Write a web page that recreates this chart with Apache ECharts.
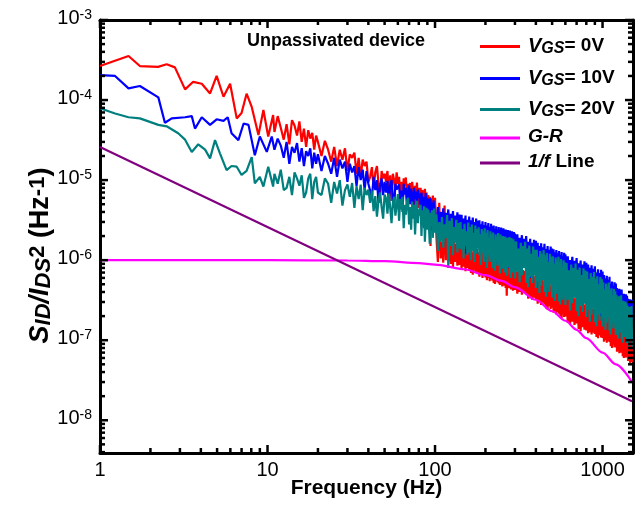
<!DOCTYPE html>
<html>
<head>
<meta charset="utf-8">
<script src="https://cdn.jsdelivr.net/npm/echarts@6/dist/echarts.min.js"></script>
<style>
  html, body { margin: 0; padding: 0; background: #ffffff; }
  #chart { width: 640px; height: 508px; }
</style>
</head>
<body>
<div id="chart"></div>
<script>
// Normalised drain-current noise spectra S_ID/I_DS^2 of the unpassivated device.
// All spectral values below are in units of 1e-9 Hz^-1.
const UNIT = 1e-9;

// Low-frequency part of each spectrum
const redLowFreq = [1, 1.48, 1.73, 2.22, 2.5, 2.8, 3.22, 3.6, 4.05, 4.54, 4.97, 5.46, 5.98, 6.55, 7.0, 7.5, 8.05, 8.83, 9.45, 10.1, 10.8];
const redLow = [266000, 355000, 266000, 260000, 280000, 256000, 136000, 169000, 160000, 121000, 200000, 110000, 160000, 59000, 69000, 120000, 82000, 36500, 75000, 35000, 65000];

const blueLowFreq = [1, 1.23, 1.48, 1.73, 2.23, 2.44, 2.68, 3.22, 3.53, 3.69, 4.05, 4.54, 4.97, 5.46, 5.79, 6.1, 6.7, 7.2, 7.7, 8.4, 9.0, 9.9, 10.6];
const blueLow = [205000, 200000, 140000, 150000, 108000, 52000, 59000, 61000, 63000, 44000, 61000, 49000, 57500, 55000, 61000, 38500, 31600, 51000, 49000, 20400, 35000, 22500, 35000];

const tealLowFreq = [1, 1.23, 1.48, 1.73, 2.23, 2.5, 2.93, 3.22, 3.53, 3.86, 4.24, 4.54, 4.86, 5.2, 5.7, 6.1, 6.55, 7.0, 7.5, 8.05, 8.4, 9.0, 9.45, 10.1, 10.8];
const tealLow = [79000, 68000, 61000, 59000, 49000, 47000, 38500, 32000, 22500, 28000, 24000, 18700, 31600, 21600, 13300, 15000, 14700, 11600, 13000, 19400, 9100, 11000, 8300, 14700, 8300];

// Dense part of the spectra on a shared frequency grid (Hz)
const bandFreq = [
  11, 11.5, 12, 12.5, 13, 13.5, 14, 14.5, 15, 15.5, 16, 16.5, 17, 17.5, 18, 18.5, 19, 19.5, 20,
  21, 22, 23, 24, 25, 26, 27, 28, 29, 30, 31, 32, 33, 34, 35, 36, 37, 38, 39, 40,
  41, 42, 43, 44, 45, 46, 47, 48, 49, 50, 51, 52, 53, 54, 55, 56, 57, 58, 59, 60,
  61, 62, 63, 64, 65, 66, 67, 68, 69, 70, 71, 72, 73, 74, 75, 76, 77, 78, 79, 80,
  81, 82, 83, 84, 85, 86, 87, 88, 89, 90, 91, 92, 93, 94, 95, 96, 97, 98, 99, 100,
  102, 104, 106, 108, 110, 112, 114, 116, 118, 120, 122, 124, 126, 128, 130, 132, 134, 136, 138, 140,
  142, 144, 146, 148, 150, 152, 154, 156, 158, 160, 162, 164, 166, 168, 170, 172, 174, 176, 178, 180,
  182, 184, 186, 188, 190, 192, 194, 196, 198, 200, 202, 204, 206, 208, 210, 212, 214, 216, 218, 220,
  222, 224, 226, 228, 230, 232, 234, 236, 238, 240, 242, 244, 246, 248, 250, 252, 254, 256, 258, 260,
  262, 264, 266, 268, 270, 272, 274, 276, 278, 280, 282, 284, 286, 288, 290, 292, 294, 296, 298, 300,
  305, 310, 315, 320, 325, 330, 335, 340, 345, 350, 355, 360, 365, 370, 375, 380, 385, 390, 395, 400,
  405, 410, 415, 420, 425, 430, 435, 440, 445, 450, 455, 460, 465, 470, 475, 480, 485, 490, 495, 500,
  505, 510, 515, 520, 525, 530, 535, 540, 545, 550, 555, 560, 565, 570, 575, 580, 585, 590, 595, 600,
  610, 620, 630, 640, 650, 660, 670, 680, 690, 700, 710, 720, 730, 740, 750, 760, 770, 780, 790, 800,
  810, 820, 830, 840, 850, 860, 870, 880, 890, 900, 910, 920, 930, 940, 950, 960, 970, 980, 990, 1000,
  1010, 1020, 1030, 1040, 1050, 1060, 1070, 1080, 1090, 1100, 1110, 1120, 1130, 1140, 1150, 1160, 1170, 1180, 1190, 1200,
  1210, 1220, 1230, 1240, 1250, 1260, 1270, 1280, 1290, 1300, 1310, 1320, 1330, 1340, 1350, 1360, 1370, 1380, 1390, 1400,
  1410, 1420, 1430, 1440, 1450, 1460, 1470, 1480, 1490, 1500
];

const redBand = [
  40000, 63000, 45000, 32000, 50000, 28000, 56000, 48000, 36000, 54000, 30000, 44000, 26000, 42000, 33000, 39000, 24000, 36000, 30000,
  20000, 31000, 24000, 17000, 26000, 15000, 24000, 18000, 25000, 13000, 21000, 19000, 22000, 12000, 19000, 11000, 18000, 15000, 17000, 9500,
  11000, 14500, 8000, 12500, 15000, 9000, 6500, 13000, 10500, 12000, 9500, 13000, 7000, 11500, 5500, 12000, 10000, 8000, 12500, 9000,
  11000, 6500, 9500, 4500, 10500, 8500, 10800, 5500, 9000, 7500, 9200, 5000, 9500, 7500, 3500, 8500, 6500, 9300, 4500, 8000,
  6000, 8000, 4000, 7500, 6800, 2500, 7800, 5500, 7000, 3500, 6500, 4500, 6200, 1500, 5800, 3500, 6400, 5000, 2400, 6000,
  1900, 950, 5200, 1050, 1700, 930, 4800, 1000, 2000, 980, 1700, 900, 1500, 820, 2000, 950, 1600, 850, 1800, 870,
  1500, 760, 1800, 830, 1400, 730, 1600, 800, 1450, 750, 1350, 690, 1250, 660, 1500, 740, 1300, 700, 1400, 670,
  1250, 620, 1400, 680, 1150, 600, 1300, 650, 1200, 610, 1100, 560, 1050, 600, 1250, 545, 1150, 580, 1100, 555,
  1000, 520, 1150, 505, 950, 560, 1050, 530, 1000, 510, 950, 490, 900, 520, 1050, 470, 920, 500, 980, 480,
  880, 450, 950, 360, 850, 470, 900, 445, 870, 460, 820, 430, 800, 450, 880, 415, 830, 440, 810, 425,
  720, 380, 780, 400, 700, 370, 750, 390, 730, 375, 640, 330, 620, 345, 680, 320, 650, 340, 630, 325,
  560, 285, 600, 300, 540, 275, 580, 295, 550, 280, 490, 250, 470, 240, 520, 265, 480, 245, 500, 255,
  440, 220, 460, 230, 420, 210, 450, 225, 430, 215, 390, 200, 380, 190, 410, 210, 385, 195, 395, 198,
  330, 165, 350, 158, 320, 170, 340, 155, 335, 162, 280, 138, 270, 130, 295, 145, 285, 135, 275, 132,
  245, 122, 255, 126, 240, 118, 250, 124, 248, 120, 215, 110, 210, 106, 225, 115, 218, 108, 212, 107,
  190, 96, 200, 100, 185, 93, 195, 98, 192, 95, 168, 84, 162, 80, 175, 88, 170, 82, 165, 81,
  148, 72, 155, 75, 145, 69, 150, 73, 147, 70, 132, 63, 128, 60, 138, 66, 133, 61, 130, 62,
  118, 55, 122, 57, 115, 52, 120, 56, 117, 53
];

const blueBand = [
  24000, 33000, 27000, 19000, 30000, 16000, 26000, 22000, 29000, 17000, 25000, 15000, 23000, 20000, 25000, 14000, 22000, 16000, 21000,
  13000, 20000, 16000, 12000, 19000, 11000, 18000, 14000, 17000, 9500, 16000, 12500, 15000, 8500, 14500, 10000, 13500, 7500, 13000, 9000,
  9000, 6000, 11000, 7500, 10000, 5200, 8500, 10500, 6500, 9500, 7000, 9800, 5000, 8600, 10000, 6200, 4500, 9000, 7600, 8200,
  8800, 5500, 7400, 4000, 9000, 6600, 8000, 4600, 7000, 8600, 5000, 7800, 6400, 3500, 8000, 5800, 7200, 4200, 7600, 6000,
  6800, 4000, 7000, 5400, 2900, 6200, 4800, 6900, 3600, 6000, 3200, 5800, 4400, 6000, 2400, 5200, 3800, 5600, 4600, 2800,
  2600, 4600, 2200, 4000, 2900, 4450, 2400, 3900, 2700, 4300, 2300, 3800, 2600, 4100, 1900, 3600, 2500, 3950, 2200, 3700,
  2100, 3700, 1800, 3300, 2300, 3600, 1200, 3200, 2000, 3500, 1900, 3150, 2100, 3400, 1700, 3000, 2000, 3300, 1850, 3100,
  1800, 3150, 1600, 2800, 2000, 3050, 1750, 2750, 1050, 3000, 1650, 2700, 1800, 2900, 1500, 2600, 1750, 2850, 1600, 2650,
  1550, 2700, 1400, 2450, 1650, 2650, 900, 2400, 1500, 2600, 1450, 2350, 1550, 2550, 1300, 2250, 1500, 2500, 1400, 2300,
  1350, 2420, 1250, 2200, 1450, 2380, 1300, 2150, 800, 2350, 1300, 2100, 1400, 2300, 1200, 2050, 1350, 2250, 1250, 2150,
  1200, 2100, 1100, 1900, 1300, 2050, 1150, 1850, 1250, 2000, 1050, 1700, 1150, 1850, 600, 1650, 1100, 1800, 1000, 1750,
  950, 1650, 850, 1500, 1000, 1620, 900, 1450, 950, 1600, 850, 1380, 900, 1500, 780, 1350, 500, 1480, 870, 1400,
  780, 1370, 720, 1250, 820, 1340, 760, 1220, 800, 1300, 700, 1160, 750, 1260, 650, 1130, 420, 1240, 720, 1180,
  640, 1120, 600, 1000, 680, 1100, 620, 980, 650, 1060, 560, 910, 590, 990, 300, 880, 580, 970, 550, 930,
  500, 880, 470, 800, 520, 860, 480, 780, 510, 840, 440, 700, 460, 770, 410, 690, 200, 760, 450, 720,
  370, 650, 350, 590, 390, 640, 360, 570, 380, 620, 310, 500, 320, 540, 170, 480, 300, 530, 315, 510,
  260, 450, 250, 410, 270, 440, 255, 400, 265, 430, 215, 350, 225, 380, 120, 340, 220, 375, 210, 360,
  185, 330, 180, 300, 190, 325, 175, 295, 185, 320
];

const tealBand = [
  12000, 9000, 13500, 7500, 8000, 11000, 6500, 12500, 10500, 8500, 11500, 6000, 7000, 10500, 12000, 5800, 9500, 11000, 7000,
  6500, 10500, 9000, 5200, 9500, 6800, 10000, 4800, 7500, 8800, 6200, 9200, 4500, 8400, 5800, 8800, 4200, 8000, 6500, 7600,
  5200, 7400, 4100, 6300, 3500, 5600, 7000, 4600, 3300, 6600, 5900, 3800, 6800, 4500, 2900, 5200, 6200, 3600, 4800, 6700,
  3100, 5800, 4300, 6200, 2500, 4900, 3700, 5500, 6000, 2800, 4600, 2400, 5400, 3300, 4900, 2100, 3900, 5500, 2900, 4300,
  3600, 4900, 2000, 4200, 2700, 4700, 1700, 3200, 4500, 2400, 4300, 2600, 1600, 3900, 3000, 4200, 1900, 3400, 4400, 2200,
  3750, 1300, 3000, 1700, 3450, 1430, 2800, 1900, 3650, 800, 3100, 1500, 3350, 1150, 2600, 1650, 3200, 1250, 2900, 1400,
  3000, 1350, 2450, 1050, 2850, 1500, 2300, 1150, 2950, 1250, 2600, 1000, 2780, 1300, 2200, 950, 2700, 1200, 2450, 1400,
  2580, 1150, 2100, 870, 2450, 1250, 2300, 950, 2500, 1100, 2200, 800, 2380, 1150, 1900, 950, 2300, 1050, 2100, 790,
  2220, 1000, 1800, 740, 2100, 1050, 1950, 850, 2180, 950, 1900, 680, 2090, 950, 1650, 780, 2000, 1000, 1850, 700,
  1980, 900, 1600, 640, 1900, 820, 1750, 950, 1950, 660, 1750, 600, 1890, 850, 1500, 700, 1820, 880, 1700, 590,
  1720, 720, 1400, 530, 1650, 650, 1500, 800, 1700, 520, 1400, 460, 1520, 620, 1200, 520, 1480, 650, 1350, 450,
  1350, 550, 1100, 390, 1300, 480, 1200, 560, 1340, 400, 1150, 350, 1230, 470, 950, 400, 1200, 500, 1100, 340,
  1120, 420, 900, 310, 1080, 380, 980, 440, 1100, 305, 960, 280, 1030, 380, 820, 320, 1000, 400, 940, 275,
  920, 320, 750, 235, 880, 290, 800, 340, 910, 230, 760, 200, 810, 270, 650, 225, 790, 285, 740, 195,
  720, 240, 580, 170, 690, 210, 620, 250, 710, 168, 590, 150, 630, 210, 500, 175, 615, 220, 580, 148,
  530, 190, 430, 135, 510, 165, 470, 195, 525, 132, 420, 118, 445, 165, 360, 140, 435, 170, 410, 116,
  370, 145, 300, 105, 355, 125, 330, 150, 365, 103, 295, 93, 310, 130, 250, 110, 305, 135, 290, 92,
  270, 115, 220, 84, 260, 100, 240, 120, 268, 83
];

// Generation-recombination component
const grFreq = [1, 10, 30, 50, 80, 100, 150, 200, 250, 300, 400, 500, 600, 700, 800, 1000, 1200, 1500];
const grVals = [1000, 1000, 990, 970, 920, 880, 770, 650, 550, 460, 320, 230, 175, 135, 106, 70, 50, 30];

// 1/f reference line
const flickerFreq = [1, 1500];
const flickerVals = [26000, 17.3];

// Axis ticks
const xTickLabels = [1, 10, 100, 1000];
const yTickLabels = [1e-8, 1e-7, 1e-6, 1e-5, 1e-4, 1e-3];

const X_MIN = 1, X_MAX = 1520, Y_MIN = 3.9e-9, Y_MAX = 1e-3;
const FONT = 'Liberation Sans, Arial, sans-serif';

function pairs(xs, ys) { return xs.map((x, i) => [x, ys[i] * UNIT]); }
function minorTicks(lo, hi, e0, e1) {
  const out = [];
  for (let e = e0; e <= e1; e++) {
    for (let m = 2; m <= 9; m++) {
      const v = m * Math.pow(10, e);
      if (v >= lo && v <= hi) out.push(v);
    }
  }
  return out;
}
const xMinor = minorTicks(X_MIN, X_MAX, 0, 3);
const yMinor = minorTicks(Y_MIN, Y_MAX, -9, -4);

const redData = pairs(redLowFreq, redLow).concat(pairs(bandFreq, redBand));
const blueData = pairs(blueLowFreq, blueLow).concat(pairs(bandFreq, blueBand));
const tealData = pairs(tealLowFreq, tealLow).concat(pairs(bandFreq, tealBand));

// Tick marks on all four sides of the frame: [x, y, isMajor]
const xTickData = xTickLabels.map(v => [v, Y_MIN, 1]).concat(xMinor.map(v => [v, Y_MIN, 0]));
const yTickData = yTickLabels.map(v => [X_MIN, v, 1]).concat(yMinor.map(v => [X_MIN, v, 0]));
const TICK = { stroke: '#000000', lineWidth: 2.5 };

function renderXTick(params, api) {
  const p = api.coord([api.value(0), api.value(1)]);
  const cs = params.coordSys;
  const len = api.value(2) ? 8 : 5;
  const b = cs.y + cs.height, t = cs.y;
  return { type: 'group', children: [
    { type: 'line', shape: { x1: p[0], y1: b, x2: p[0], y2: b - len }, style: TICK },
    { type: 'line', shape: { x1: p[0], y1: t, x2: p[0], y2: t + len }, style: TICK }
  ] };
}
function renderYTick(params, api) {
  const p = api.coord([api.value(0), api.value(1)]);
  const cs = params.coordSys;
  const len = api.value(2) ? 8 : 5;
  const l = cs.x, r = cs.x + cs.width;
  return { type: 'group', children: [
    { type: 'line', shape: { x1: l, y1: p[1], x2: l + len, y2: p[1] }, style: TICK },
    { type: 'line', shape: { x1: r, y1: p[1], x2: r - len, y2: p[1] }, style: TICK }
  ] };
}

const AXIS_LINE = { show: true, onZero: false, lineStyle: { color: '#000', width: 3 } };

const legendRich = {
  v:   { fontFamily: FONT, fontSize: 20, fontWeight: 'bold', fontStyle: 'italic', color: '#000', lineHeight: 21, verticalAlign: 'top' },
  sub: { fontFamily: FONT, fontSize: 16, fontWeight: 'bold', fontStyle: 'italic', color: '#000', lineHeight: 16, padding: [8, 0, 0, 0], verticalAlign: 'bottom' },
  n:   { fontFamily: FONT, fontSize: 19, fontWeight: 'bold', color: '#000', lineHeight: 21, verticalAlign: 'top' },
  i:   { fontFamily: FONT, fontSize: 19, fontWeight: 'bold', fontStyle: 'italic', color: '#000', lineHeight: 21, verticalAlign: 'top' }
};
function legendAt(name, top, text) {
  return {
    data: [name], left: 480, top: top, padding: 0, icon: 'rect',
    itemWidth: 40, itemHeight: 3, selectedMode: false,
    formatter: () => text,
    textStyle: { fontFamily: FONT, color: '#000', padding: [0, 0, 0, 3], rich: legendRich }
  };
}

function lineSeries(name, data, color, extra) {
  return Object.assign({
    type: 'line', name: name, data: data, xAxisIndex: 0, yAxisIndex: 0,
    symbol: 'none', showSymbol: false, color: color,
    lineStyle: { color: color, width: 2.2 }, animation: false
  }, extra || {});
}

const chart = echarts.init(document.getElementById('chart'), null, { renderer: 'canvas' });
chart.setOption({
  backgroundColor: '#ffffff',
  animation: false,
  title: {
    text: 'Unpassivated device', left: 247, top: 32, padding: 0,
    textStyle: { fontFamily: FONT, fontSize: 18, fontWeight: 'bold', color: '#000' }
  },
  legend: [
    legendAt('VGS = 0V', 33, '{v|V}{sub|GS}{n|= 0V}'),
    legendAt('VGS = 10V', 65, '{v|V}{sub|GS}{n|= 10V}'),
    legendAt('VGS = 20V', 96, '{v|V}{sub|GS}{n|= 20V}'),
    legendAt('G-R', 127.5, '{i|G-R}'),
    legendAt('1/f Line', 152.5, '{i|1/f}{n| Line}')
  ],
  grid: { left: 100, top: 20, right: 7, bottom: 55, containLabel: false, outerBoundsMode: 'none' },
  xAxis: [
    {
      type: 'log', logBase: 10, min: X_MIN, max: X_MAX, position: 'bottom',
      splitLine: { show: false }, axisTick: { show: false }, axisLine: AXIS_LINE,
      axisLabel: {
        show: true, customValues: xTickLabels, margin: 7, fontFamily: FONT, fontSize: 20, color: '#000',
        formatter: v => String(Math.round(v))
      },
      name: 'Frequency (Hz)', nameLocation: 'middle', nameGap: 25, nameMoveOverlap: false,
      nameTextStyle: { fontFamily: FONT, fontSize: 21, fontWeight: 'bold', color: '#000' }
    },
    {
      type: 'log', logBase: 10, min: X_MIN, max: X_MAX, position: 'top',
      splitLine: { show: false }, axisTick: { show: false }, axisLabel: { show: false }, axisLine: AXIS_LINE
    }
  ],
  yAxis: [
    {
      type: 'log', logBase: 10, min: Y_MIN, max: Y_MAX, position: 'left',
      splitLine: { show: false }, axisTick: { show: false }, axisLine: AXIS_LINE,
      axisLabel: {
        show: true, customValues: yTickLabels, margin: 8, padding: [0, 0, 4, 0],
        formatter: v => '{b|10}{s|' + Math.round(Math.log10(v)) + '}',
        rich: {
          b: { fontFamily: FONT, fontSize: 20, color: '#000', lineHeight: 20, verticalAlign: 'bottom' },
          s: { fontFamily: FONT, fontSize: 14, color: '#000', lineHeight: 14, padding: [0, 0, 12, 0], verticalAlign: 'top' }
        }
      },
      name: '{si|S}{sb|ID}{si|/I}{sb|DS}{sp|2}{n| (Hz}{sp|-1}{n|)}',
      nameLocation: 'middle', nameRotate: 90, nameGap: 45, nameMoveOverlap: false,
      nameTextStyle: {
        fontFamily: FONT, color: '#000', padding: [0, 38, 0, 0],
        rich: {
          si: { fontFamily: FONT, fontSize: 27, fontWeight: 'bold', fontStyle: 'italic', color: '#000', lineHeight: 28, verticalAlign: 'middle' },
          sb: { fontFamily: FONT, fontSize: 22, fontWeight: 'bold', fontStyle: 'italic', color: '#000', lineHeight: 22, padding: [15, 0, 0, 0], verticalAlign: 'bottom' },
          sp: { fontFamily: FONT, fontSize: 22, fontWeight: 'bold', color: '#000', lineHeight: 22, padding: [0, 0, 15, 0], verticalAlign: 'top' },
          n:  { fontFamily: FONT, fontSize: 27, fontWeight: 'bold', color: '#000', lineHeight: 28, verticalAlign: 'middle' }
        }
      }
    },
    {
      type: 'log', logBase: 10, min: Y_MIN, max: Y_MAX, position: 'right',
      splitLine: { show: false }, axisTick: { show: false }, axisLabel: { show: false }, axisLine: AXIS_LINE
    }
  ],
  series: [
    lineSeries('VGS = 0V', redData, '#ff0000'),
    lineSeries('VGS = 10V', blueData, '#0000ff'),
    lineSeries('VGS = 20V', tealData, '#007f7f'),
    lineSeries('G-R', pairs(grFreq, grVals), '#ff00ff', { smooth: 0.3, smoothMonotone: 'x' }),
    lineSeries('1/f Line', pairs(flickerFreq, flickerVals), '#800080'),
    {
      type: 'custom', xAxisIndex: 0, yAxisIndex: 0, data: xTickData, encode: { x: 0, y: 1 },
      renderItem: renderXTick, clip: false, z: 5
    },
    {
      type: 'custom', xAxisIndex: 0, yAxisIndex: 0, data: yTickData, encode: { x: 0, y: 1 },
      renderItem: renderYTick, clip: false, z: 5
    }
  ]
});
</script>
</body>
</html>
